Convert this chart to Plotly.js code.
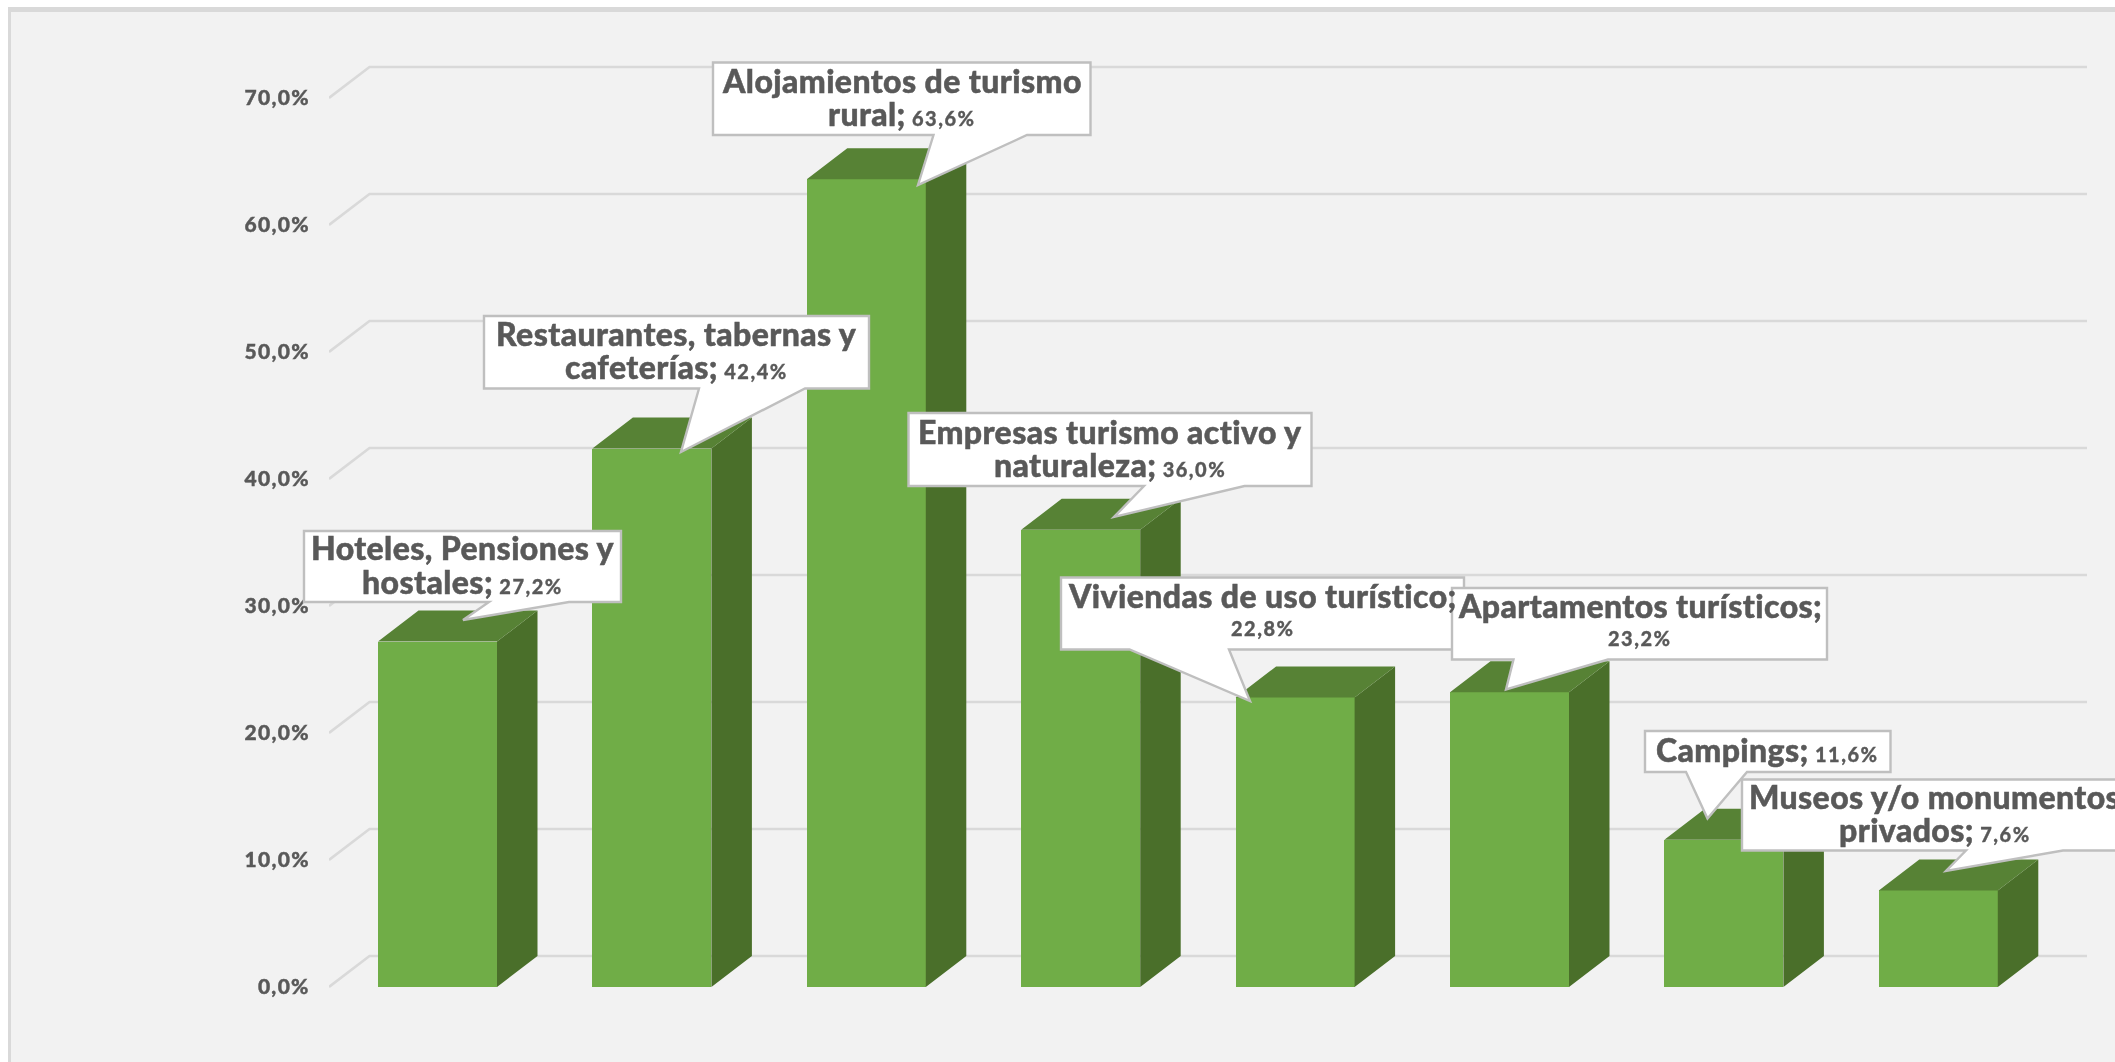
<!DOCTYPE html>
<html lang="es">
<head>
<meta charset="utf-8">
<script src="https://cdn.plot.ly/plotly-3.0.1.min.js"></script>
<style>
html,body{margin:0;padding:0;background:#fff;overflow:hidden}
#chart{width:2115px;height:1062px;filter:blur(0.45px)}
.annotation-text{font-weight:900 !important;letter-spacing:0.4px;stroke:#595959;stroke-width:0.5px}
.ytick text{letter-spacing:1.3px;font-weight:900 !important;stroke:#595959;stroke-width:0.4px}
</style>
</head>
<body>
<div id="chart"></div>
<script>
// ---- data ----
const categories = ["Hoteles, Pensiones y hostales","Restaurantes, tabernas y cafeterías","Alojamientos de turismo rural","Empresas turismo activo y naturaleza","Viviendas de uso turístico","Apartamentos turísticos","Campings","Museos y/o monumentos privados"];
const values = [27.2,42.4,63.6,36.0,22.8,23.2,11.6,7.6];
const valueLabels = ["27,2%","42,4%","63,6%","36,0%","22,8%","23,2%","11,6%","7,6%"];
const yTicks = [0,10,20,30,40,50,60,70];
const yTickLabels = ["0,0%","10,0%","20,0%","30,0%","40,0%","50,0%","60,0%","70,0%"];
const labelLine1 = ["Hoteles, Pensiones y","Restaurantes, tabernas y","Alojamientos de turismo","Empresas turismo activo y","Viviendas de uso turístico;","Apartamentos turísticos;","Campings;","Museos y/o monumentos"];
const labelLine2 = ["hostales;","cafeterías;","rural;","naturaleza;","","","","privados;"];

// ---- geometry (pixels of the page) ----
const W=2115,H=1062,plotL=329;
const y0px=987,pxPerUnit=12.7,firstCentre=437.5,pitch=214.4,barW=119,depthX=40.5,depthY=31,gridEnd=2087;
const toX=p=>(p-firstCentre)/pitch;
const xRange=[toX(plotL),toX(W)];
const yRange=[(y0px-H)/pxPerUnit,y0px/pxPerUnit];
const dx=depthX/pitch,dy=depthY/pxPerUnit,hw=barW/pitch/2;
const px=p=>(p-plotL)/(W-plotL), py=p=>1-p/H;

// callouts: box [x0,y0,x1,y1], pointer base [xa,xb], tip [x,y]
const boxes=[[304,531,621,602],[484,316,869,388.5],[713,62.5,1090.5,135],[908.5,413,1311.5,486],[1061,577.5,1464,649.5],[1452,588,1827,659.5],[1645,731,1890.5,772],[1742,779.5,2127,850.5]];
const bases=[[489,569],[699,805],[933.5,1027],[1144,1244.5],[1129.5,1229],[1513.5,1608],[1686,1747],[1966,2063]];
const tips=[[463,620],[681,452],[918,185],[1114,517],[1250,701],[1506,689.5],[1707.5,818.5],[1946,871]];

const idx=values.map((_,i)=>i);
const side={x:[],y:[]},top_={x:[],y:[]};
values.forEach((v,i)=>{
  const r=i+hw,l=i-hw;
  side.x.push(r,r+dx,r+dx,r,r,null); side.y.push(0,dy,v+dy,v,0,null);
  top_.x.push(l,r,r+dx,l+dx,l,null); top_.y.push(v,v,v+dy,v+dy,v,null);
});

const traces=[
 {type:'bar',x:idx,y:values,width:barW/pitch,marker:{color:'#70ad47',line:{width:0}},hovertext:categories,hoverinfo:'text+y',textposition:'none',showlegend:false},
 {type:'scatter',mode:'lines',x:side.x,y:side.y,fill:'toself',fillcolor:'#4a6f2a',line:{width:0,color:'#4a6f2a'},hoverinfo:'skip',showlegend:false},
 {type:'scatter',mode:'lines',x:top_.x,y:top_.y,fill:'toself',fillcolor:'#578235',line:{width:0,color:'#578235'},hoverinfo:'skip',showlegend:false}
];

const shapes=[
 {type:'rect',xref:'paper',yref:'paper',x0:px(0),x1:px(W),y0:0,y1:1,fillcolor:'#ffffff',line:{width:0},layer:'below'},
 {type:'rect',xref:'paper',yref:'paper',x0:px(8),x1:px(W),y0:0,y1:py(7),fillcolor:'#d9d9d9',line:{width:0},layer:'below'},
 {type:'rect',xref:'paper',yref:'paper',x0:px(11),x1:px(W),y0:0,y1:py(12),fillcolor:'#f2f2f2',line:{width:0},layer:'below'}
];
yTicks.forEach(t=>{
  shapes.push({type:'path',xref:'x',yref:'y',layer:'below',
    path:`M${xRange[0]},${t}L${xRange[0]+dx},${t+dy}L${toX(gridEnd)},${t+dy}`,
    line:{color:'#d9d9d9',width:2.6}});
});
const annotations=[];
const F='Lato, "Open Sans", sans-serif';
const LINE=16.5;
categories.forEach((c,i)=>{
  const [a,b,c2,d]=boxes[i],[ba,bb]=bases[i],[tx,ty]=tips[i];
  const P=[[a,b],[c2,b],[c2,d],[bb,d],[tx,ty],[ba,d],[a,d]];
  shapes.push({type:'path',xref:'paper',yref:'paper',layer:'above',
    path:'M'+P.map(q=>px(q[0])+','+py(q[1])).join('L')+'Z',
    fillcolor:'#ffffff',line:{color:'#bfbfbf',width:2.4}});
  const val=(sp)=>'<span style="font-size:20px;letter-spacing:1.5px;stroke-width:0.3px">'+sp+valueLabels[i]+'</span>';
  const l1=labelLine1[i],l2=labelLine2[i];
  const cx=(a+c2)/2,cy=(b+d)/2-2;
  const add=(text,yy)=>annotations.push({xref:'paper',yref:'paper',x:px(cx),y:py(yy),xanchor:'center',yanchor:'middle',align:'center',showarrow:false,text,
    font:{family:F,size:32,color:'#595959',weight:900}});
  if(i===6) add(l1+val(' '),cy);
  else if(l2){add(l1,cy-LINE);add(l2+val(' '),cy+LINE);}
  else {add(l1,cy-LINE);add(val(''),cy+LINE);}
});

const layout={
 width:W,height:H,margin:{l:plotL,r:0,t:0,b:0,pad:0},
 paper_bgcolor:'#f2f2f2',plot_bgcolor:'rgba(0,0,0,0)',bargap:0,showlegend:false,
 font:{family:F,color:'#595959'},
 xaxis:{type:'linear',range:xRange,showgrid:false,zeroline:false,showline:false,showticklabels:false,ticks:'',fixedrange:true},
 yaxis:{range:yRange,tickmode:'array',tickvals:yTicks,ticktext:yTickLabels,showgrid:false,zeroline:false,showline:false,
   ticks:'outside',ticklen:14,tickcolor:'rgba(0,0,0,0)',tickfont:{family:F,size:21,color:'#595959',weight:700},fixedrange:true},
 shapes,annotations
};
Plotly.newPlot('chart',traces,layout,{displayModeBar:false,staticPlot:true});
</script>
</body>
</html>
